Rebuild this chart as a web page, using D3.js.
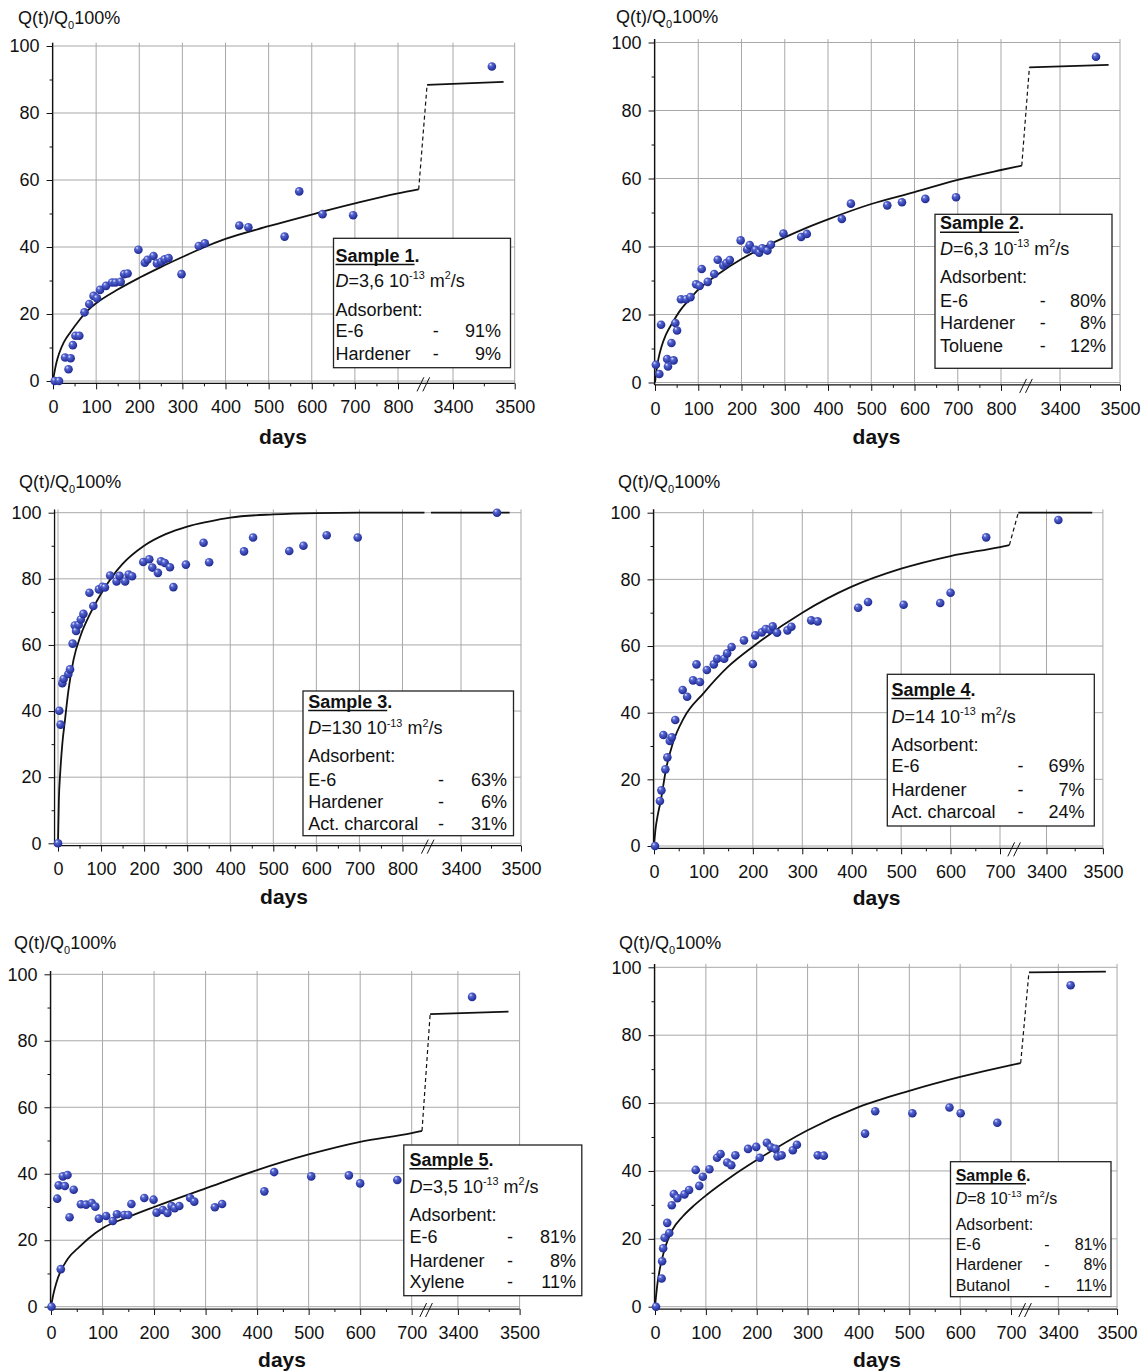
<!DOCTYPE html>
<meta charset="utf-8">
<script src="https://cdn.jsdelivr.net/npm/d3@7/dist/d3.min.js"></script>
<style>
  body { margin: 0; background: #fff; }
  svg text { font-family: "Liberation Sans", Arial, Helvetica, sans-serif; fill: #111; }
</style>
<div id="chart"></div>
<script>
// tick values
var xTicksLong = [0, 100, 200, 300, 400, 500, 600, 700, 800, 3400, 3500];
var xTicksShort = [0, 100, 200, 300, 400, 500, 600, 700, 3400, 3500];
var yTicks = [0, 20, 40, 60, 80, 100];
var yMinor = [10, 30, 50, 70, 90];

// measured points [day, Q(t)/Q0 %]
var s1Points = [[4,0],[14,0],[28,7.0],[36,3.5],[41,6.8],[46,10.7],[52,13.5],[61,13.5],[73,20.5],[84,23],[94,25.4],[102,24.7],[109,27.2],[123,28.4],[137,29.4],[145,29.4],[157,29.6],[165,31.9],[173,32.1],[198,39.2],[213,35.3],[219,36.2],[233,37.3],[241,35.1],[251,35.6],[259,36.3],[268,36.7],[298,31.9],[338,40.3],[352,41.1],[432,46.4],[453,45.9],[537,43.1],[571,56.6],[625,49.8],[696,49.5],[3463,93.9]];
var s2Points = [[2,5.2],[10,2.5],[14,17],[28,6.9],[30,4.7],[38,11.6],[43,6.5],[47,17.5],[51,15.3],[60,24.5],[72,24.5],[82,25.1],[95,28.9],[103,28.4],[108,33.4],[122,29.6],[137,31.9],[145,36.1],[158,34.4],[165,35.1],[173,36.0],[198,41.8],[213,39.1],[219,40.4],[232,39.0],[241,38.2],[248,39.5],[260,38.8],[268,40.5],[297,43.8],[338,42.8],[351,43.7],[432,48.1],[453,52.6],[537,52.1],[571,53.0],[625,54.0],[696,54.5],[3460,95.8]];
var s3Points = [[0,0],[3,40.1],[6,35.9],[10,48.4],[13,49.7],[24,51.2],[28,52.6],[34,60.4],[39,65.9],[42,64.2],[48,66.1],[53,67.7],[59,69.4],[73,75.8],[82,71.8],[95,76.8],[103,77.6],[109,77.4],[121,81.0],[136,79.2],[143,80.9],[156,79.2],[164,81.3],[172,80.8],[198,85.1],[212,85.9],[219,83.4],[232,81.8],[239,85.3],[248,84.8],[260,83.5],[268,77.5],[297,84.3],[338,90.9],[351,85.0],[432,88.3],[453,92.5],[537,88.4],[570,90.0],[624,93.2],[696,92.5],[3460,100]];
var s4Points = [[2,0],[12,13.5],[15,16.7],[19,33.3],[23,23],[27,26.6],[32,31.5],[36,32.6],[43,37.8],[58,46.8],[67,44.8],[79,49.7],[86,54.5],[93,49.2],[107,52.8],[121,54.5],[128,56.2],[142,56.2],[148,57.8],[157,59.7],[182,61.7],[200,54.6],[205,63.2],[218,64.1],[226,65.1],[235,64.8],[240,65.9],[249,64],[270,64.7],[278,65.8],[318,67.7],[331,67.4],[413,71.5],[433,73.2],[505,72.4],[579,72.9],[600,76],[672,92.6],[3421,97.8]];
var s5Points = [[1,0],[12,32.5],[15,36.5],[19,11.3],[23,39.2],[27,36.3],[32,39.6],[36,26.9],[44,35.2],[58,30.8],[68,30.7],[79,31.2],[86,30.1],[93,26.5],[107,27.3],[120,25.8],[128,27.8],[142,27.6],[150,27.6],[156,30.9],[181,32.7],[199,32.2],[205,28.3],[217,29.1],[226,28.2],[234,30.3],[240,29.6],[249,30.3],[270,32.7],[278,31.6],[318,29.9],[332,30.9],[414,34.7],[433,40.5],[505,39.2],[578,39.5],[600,37.1],[672,38.1],[3423,93.2]];
var s6Points = [[2,0],[13,8.3],[14,13.4],[16,17.2],[19,20.3],[24,24.7],[28,21.7],[33,29.9],[37,33.2],[44,32.0],[58,33.1],[67,34.4],[80,40.3],[87,35.6],[94,38.3],[107,40.5],[122,43.9],[129,45],[142,42.5],[150,41.7],[158,44.6],[183,46.5],[199,47.1],[206,43.9],[220,48.3],[228,47],[237,46.5],[241,44.3],[249,44.6],[271,46.1],[279,47.7],[320,44.6],[332,44.5],[413,51],[433,57.6],[506,57],[579,58.7],[601,57],[673,54.2],[3421,94.7]];

// model curves: first part and part after the axis break
var s1CurveA = [[0,0],[4,3],[8,5.5],[15,8.5],[25,11.5],[40,14.5],[60,18],[80,21],[100,23.2],[150,27.3],[200,30.8],[250,34],[300,37],[352,40],[400,42.4],[500,46.2],[600,49.7],[700,53],[800,56],[848,57.2]];
var s1CurveB = [[3358,88.4],[3482,89.3]];
var s2CurveA = [[0,0],[4,4],[8,7],[15,10.5],[25,14],[40,17.5],[60,21.5],[80,24.5],[100,27.3],[150,32.2],[200,36.3],[250,39.7],[300,42.7],[350,45.5],[400,48],[500,52.5],[600,56],[700,59.6],[800,62.5],[848,63.8]];
var s2CurveB = [[3349,92.7],[3481,93.4]];
var s3CurveA = [[0,0],[2,13],[5,21],[10,30],[16,37],[24,46],[36,55.5],[53,63],[73,69],[100,75.5],[125,80.5],[150,84.5],[200,90],[250,93.5],[300,95.8],[350,97.3],[400,98.5],[500,99.5],[600,99.9],[700,100],[851,100]];
var s3CurveB = [[3350,100],[3481,100]];
var s4CurveA = [[0,0],[3,5],[7,8.8],[14,13.8],[24,22.8],[38,30.8],[60,38.3],[100,45.8],[150,53.8],[200,59.8],[300,70],[400,77.8],[500,83.2],[600,87],[700,89.7],[719,90.3]];
var s4CurveB = [[3350,100],[3481,100]];
var s5CurveA = [[0,0],[5,4],[10,7],[18,10.5],[25,12.5],[33,14.5],[55,18],[85,22],[100,23.6],[150,27],[200,30],[300,35.6],[400,41.1],[500,45.8],[600,49.6],[700,52.2],[720,52.9]];
var s5CurveB = [[3355,88],[3482,88.8]];
var s6CurveA = [[0,0],[5,7],[10,11.5],[20,17.5],[34,22.6],[54,26.5],[78,30],[102,33],[150,38.3],[200,43.2],[300,52],[400,58.8],[500,63.6],[600,67.7],[700,71.2],[719,71.8]];
var s6CurveB = [[3350,98.5],[3481,98.7]];

// legend texts
var sampleNames = ["Sample 1", "Sample 2", "Sample 3", "Sample 4", "Sample 5", "Sample 6"];
var diffCoefs = ["3,6", "6,3", "130", "14", "3,5", "8"];
var s1Adsorbent = [["E-6", "91%"], ["Hardener", "9%"]];
var s2Adsorbent = [["E-6", "80%"], ["Hardener", "8%"], ["Toluene", "12%"]];
var s3Adsorbent = [["E-6", "63%"], ["Hardener", "6%"], ["Act. charcoral", "31%"]];
var s4Adsorbent = [["E-6", "69%"], ["Hardener", "7%"], ["Act. charcoal", "24%"]];
var s5Adsorbent = [["E-6", "81%"], ["Hardener", "8%"], ["Xylene", "11%"]];
var s6Adsorbent = [["E-6", "81%"], ["Hardener", "8%"], ["Butanol", "11%"]];

// panel layout (page pixels)
var panels = [
  {pts: s1Points, a: s1CurveA, b: s1CurveB, link: true, comp: s1Adsorbent, ticks: xTicksLong,
   x0: 53, k1: 0.43125, cut1: 850, cut2: 3358, x3400: 453, k2: 0.617, xMin: -1, y0: 381, y100: 46,
   titleX: 18, titleY: 24, daysX: 283, daysY: 444,
   box: [333.5, 238.3, 177, 129.4], lines: [261.5, 286.5, 315.8, 337.2, 359.8], tx: 335.5, dashX: 435.8, pctX: 501, fs: 18},
  {pts: s2Points, a: s2CurveA, b: s2CurveB, link: true, comp: s2Adsorbent, ticks: xTicksLong,
   x0: 655, k1: 0.4325, cut1: 850, cut2: 3349, x3400: 1060, k2: 0.6, xMin: -1, y0: 382.5, y100: 42.5,
   titleX: 616, titleY: 23, daysX: 876.5, daysY: 444,
   box: [935, 214.3, 177, 154], lines: [229.2, 254.8, 283.2, 306.5, 329.2, 351.5], tx: 940, dashX: 1042.7, pctX: 1106, fs: 18},
  {pts: s3Points, a: s3CurveA, b: s3CurveB, link: false, comp: s3Adsorbent, ticks: xTicksLong,
   x0: 58, k1: 0.4306, cut1: 851, cut2: 3350, x3400: 461, k2: 0.6, xMin: -8, y0: 843.3, y100: 512.7,
   titleX: 19, titleY: 488, daysX: 284, daysY: 904,
   box: [303, 691, 210.5, 144.7], lines: [707.5, 734.2, 762.2, 785.8, 807.5, 829.8], tx: 308.2, dashX: 441, pctX: 507, fs: 18},
  {pts: s4Points, a: s4CurveA, b: s4CurveB, link: true, comp: s4Adsorbent, ticks: xTicksShort,
   x0: 654, k1: 0.4943, cut1: 720, cut2: 3350, x3400: 1046.5, k2: 0.564, xMin: -1, y0: 846, y100: 512.7,
   titleX: 618, titleY: 488, daysX: 876.6, daysY: 905,
   box: [887.3, 674.3, 207, 151.7], lines: [695.5, 722.5, 750.5, 772.2, 795.5, 818.2], tx: 891.5, dashX: 1020.5, pctX: 1084.6, fs: 18},
  {pts: s5Points, a: s5CurveA, b: s5CurveB, link: true, comp: s5Adsorbent, ticks: xTicksShort,
   x0: 51, k1: 0.5153, cut1: 720, cut2: 3355, x3400: 457.9, k2: 0.617, xMin: -1, y0: 1306.7, y100: 974.3,
   titleX: 14, titleY: 949, daysX: 282, daysY: 1367,
   box: [403.8, 1145, 178, 150.7], lines: [1165.8, 1192.5, 1220.5, 1243.2, 1266.5, 1288.2], tx: 409.4, dashX: 510, pctX: 576, fs: 18},
  {pts: s6Points, a: s6CurveA, b: s6CurveB, link: true, comp: s6Adsorbent, ticks: xTicksShort,
   x0: 655, k1: 0.5086, cut1: 720, cut2: 3350, x3400: 1058.3, k2: 0.5875, xMin: -1, y0: 1306.7, y100: 967.3,
   titleX: 619, titleY: 949, daysX: 877, daysY: 1367,
   box: [950.5, 1161.7, 160.5, 135], lines: [1180.8, 1203.5, 1230, 1249.8, 1270, 1290.8], tx: 955.7, dashX: 1047, pctX: 1106.7, fs: 16}
];

var svg = d3.select("#chart").append("svg")
  .attr("width", 1146)
  .attr("height", 1371);

var defs = svg.append("defs");
var grad = defs.append("radialGradient").attr("id", "ball")
  .attr("cx", "0.42").attr("cy", "0.38").attr("r", "0.62")
  .attr("fx", "0.33").attr("fy", "0.28");
grad.append("stop").attr("offset", "0").attr("stop-color", "#e4e8ff");
grad.append("stop").attr("offset", "0.3").attr("stop-color", "#5666d2");
grad.append("stop").attr("offset", "1").attr("stop-color", "#1d2890");

panels.forEach(function(p, i) {
  var x = d3.scaleLinear()
    .domain([p.xMin, p.cut1, p.cut2, 3500])
    .range([p.x0 + p.xMin * p.k1, p.x0 + p.cut1 * p.k1,
            p.x3400 - (3400 - p.cut2) * p.k2, p.x3400 + 100 * p.k2]);
  var y = d3.scaleLinear().domain([0, 100]).range([p.y0, p.y100]);

  var left = x(p.xMin), right = x(3500);
  var bottom = y(-0.7), top = y(101);
  var g = svg.append("g");

  // grid
  g.selectAll(".hg").data(yTicks).enter().append("line")
    .attr("x1", left).attr("x2", right)
    .attr("y1", function(d) { return y(d); }).attr("y2", function(d) { return y(d); })
    .attr("stroke", "#a8a8a8").attr("stroke-width", 1);
  g.selectAll(".vg").data(p.ticks).enter().append("line")
    .attr("x1", function(d) { return x(d); }).attr("x2", function(d) { return x(d); })
    .attr("y1", bottom).attr("y2", top)
    .attr("stroke", "#a8a8a8").attr("stroke-width", 1);

  // axes
  var xMinor = p.ticks.slice(0, -3).map(function(d) { return d + 50; }).concat([3450]);
  g.append("g").attr("transform", "translate(0," + bottom + ")")
    .call(d3.axisBottom(x).tickValues(xMinor).tickSize(3).tickFormat(""))
    .call(function(s) { s.select(".domain").remove(); });
  g.append("g").attr("transform", "translate(0," + bottom + ")")
    .call(d3.axisBottom(x).tickValues(p.ticks).tickSize(6).tickPadding(11).tickFormat(d3.format("d")))
    .call(function(s) { s.select(".domain").remove(); });
  g.append("g").attr("transform", "translate(" + left + ",0)")
    .call(d3.axisLeft(y).tickValues(yMinor).tickSize(3).tickFormat(""))
    .call(function(s) { s.select(".domain").remove(); });
  g.append("g").attr("transform", "translate(" + left + ",0)")
    .call(d3.axisLeft(y).tickValues(yTicks).tickSize(6).tickPadding(7))
    .call(function(s) { s.select(".domain").remove(); });
  g.selectAll(".tick line").attr("stroke", "#111");
  g.selectAll(".tick text").attr("font-size", 18).attr("font-family", null).attr("fill", "#111");

  g.append("line").attr("x1", left).attr("x2", right).attr("y1", bottom).attr("y2", bottom)
    .attr("stroke", "#111").attr("stroke-width", 1.3);
  g.append("line").attr("x1", left).attr("x2", left).attr("y1", bottom).attr("y2", top)
    .attr("stroke", "#111").attr("stroke-width", 1.3);

  // axis break mark
  var bx = (x(p.cut1) + x(p.cut2)) / 2;
  [-2.9, 2.9].forEach(function(o) {
    g.append("line")
      .attr("x1", bx + o - 3.4).attr("y1", bottom + 8)
      .attr("x2", bx + o + 3.4).attr("y2", bottom - 6)
      .attr("stroke", "#111").attr("stroke-width", 1);
  });

  // titles
  var t = g.append("text").attr("x", p.titleX).attr("y", p.titleY).attr("font-size", 18);
  t.append("tspan").text("Q(t)/Q");
  t.append("tspan").attr("font-size", 11).attr("dy", 5).text("0");
  t.append("tspan").attr("dy", -5).text("100%");
  g.append("text").attr("x", p.daysX).attr("y", p.daysY).attr("text-anchor", "middle")
    .attr("font-size", 21).attr("font-weight", "bold").text("days");

  // model curve
  var line = d3.line().curve(d3.curveMonotoneX)
    .x(function(d) { return x(d[0]); }).y(function(d) { return y(d[1]); });
  [p.a, p.b].forEach(function(c) {
    g.append("path").datum(c).attr("d", line)
      .attr("fill", "none").attr("stroke", "#111").attr("stroke-width", 1.8);
  });
  if (p.link) {
    g.append("path").datum([p.a[p.a.length - 1], p.b[0]])
      .attr("d", d3.line().x(function(d) { return x(d[0]); }).y(function(d) { return y(d[1]); }))
      .attr("fill", "none").attr("stroke", "#111").attr("stroke-width", 1.2)
      .attr("stroke-dasharray", "4,3");
  }

  // points
  g.selectAll(".pt").data(p.pts).enter().append("circle")
    .attr("cx", function(d) { return x(d[0]); })
    .attr("cy", function(d) { return y(d[1]); })
    .attr("r", 4.3)
    .attr("fill", "url(#ball)");

  // legend box
  var b = p.box, fs = p.fs;
  var lg = g.append("g");
  lg.append("rect").attr("x", b[0]).attr("y", b[1]).attr("width", b[2]).attr("height", b[3])
    .attr("fill", "#fff").attr("stroke", "#222").attr("stroke-width", 1.3);

  var head = lg.append("text").attr("x", p.tx).attr("y", p.lines[0])
    .attr("font-size", fs).attr("font-weight", "bold").text(sampleNames[i]);
  var hw = head.node().getComputedTextLength();
  lg.append("line").attr("x1", p.tx).attr("x2", p.tx + hw)
    .attr("y1", p.lines[0] + 3).attr("y2", p.lines[0] + 3)
    .attr("stroke", "#111").attr("stroke-width", 1.6);
  lg.append("text").attr("x", p.tx + hw).attr("y", p.lines[0])
    .attr("font-size", fs).attr("font-weight", "bold").text(".");

  var dl = lg.append("text").attr("x", p.tx).attr("y", p.lines[1]).attr("font-size", fs);
  dl.append("tspan").attr("font-style", "italic").text("D");
  dl.append("tspan").text("=" + diffCoefs[i] + " 10");
  dl.append("tspan").attr("font-size", fs * 0.6).attr("dy", -fs * 0.42).text("-13");
  dl.append("tspan").attr("dy", fs * 0.42).text(" m");
  dl.append("tspan").attr("font-size", fs * 0.6).attr("dy", -fs * 0.42).text("2");
  dl.append("tspan").attr("dy", fs * 0.42).text("/s");

  lg.append("text").attr("x", p.tx).attr("y", p.lines[2]).attr("font-size", fs).text("Adsorbent:");
  p.comp.forEach(function(c, j) {
    var yy = p.lines[3 + j];
    lg.append("text").attr("x", p.tx).attr("y", yy).attr("font-size", fs).text(c[0]);
    lg.append("text").attr("x", p.dashX).attr("y", yy).attr("font-size", fs)
      .attr("text-anchor", "middle").text("-");
    lg.append("text").attr("x", p.pctX).attr("y", yy).attr("font-size", fs)
      .attr("text-anchor", "end").text(c[1]);
  });
});
</script>
